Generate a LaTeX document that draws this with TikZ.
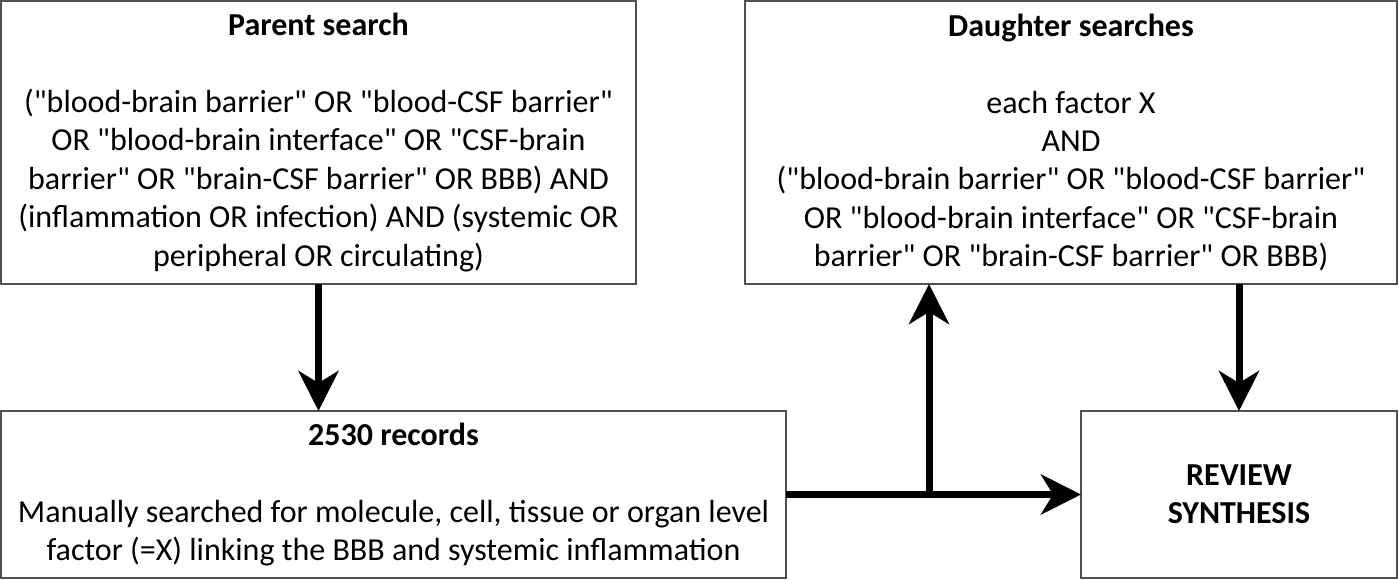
\documentclass[tikz,border=0pt]{standalone}
\usepackage{fontspec}
\setmainfont{Carlito}[Ligatures=TeXOff]
\usetikzlibrary{arrows.meta}
\definecolor{boxgray}{HTML}{505050}
\begin{document}
\begin{tikzpicture}[x=1pt,y=-1pt,
  box/.style={draw=boxgray, line width=2pt, inner sep=0pt, outer sep=0pt, align=center,
    font=\fontsize{32}{38.4}\selectfont},
  conn/.style={line width=7pt, -{Stealth[length=40pt,width=40pt,inset=12pt]}}]
\useasboundingbox (0,0) rectangle (1399,580);
\node[box, minimum width=635pt, minimum height=283pt] (parent) at (318.5,142.5)
  {\textbf{Parent search}\\[38.4pt]
   ("blood-brain barrier" OR "blood-CSF barrier"\\
   OR "blood-brain interface" OR "CSF-brain\\
   barrier" OR "brain-CSF barrier" OR BBB) AND\\
   (inflammation OR infection) AND (systemic OR\\
   peripheral OR circulating)};
\node[box, minimum width=652pt, minimum height=283pt] (daughter) at (1071,142.5)
  {\textbf{Daughter searches}\\[38.4pt]
   each factor X\\
   AND\\
   ("blood-brain barrier" OR "blood-CSF barrier"\\
   OR "blood-brain interface" OR "CSF-brain\\
   barrier" OR "brain-CSF barrier" OR BBB)};
\node[box, minimum width=785pt, minimum height=167pt] (records) at (393.5,494.5)
  {\textbf{2530 records}\\[38.4pt]
   Manually searched for molecule, cell, tissue or organ level\\
   factor (=X) linking the BBB and systemic inflammation};
\node[box, minimum width=316pt, minimum height=167pt] (review) at (1239,494.5)
  {\textbf{REVIEW}\\
   \textbf{SYNTHESIS}};
\coordinate (j) at (929,494.5);
\draw[conn] (parent.south) -- (parent.south |- records.north);
\draw[conn] (records.east) -- (review.west);
\draw[conn] (j) -- (j |- daughter.south);
\draw[conn] (review.north |- daughter.south) -- (review.north);
\end{tikzpicture}
\end{document}
